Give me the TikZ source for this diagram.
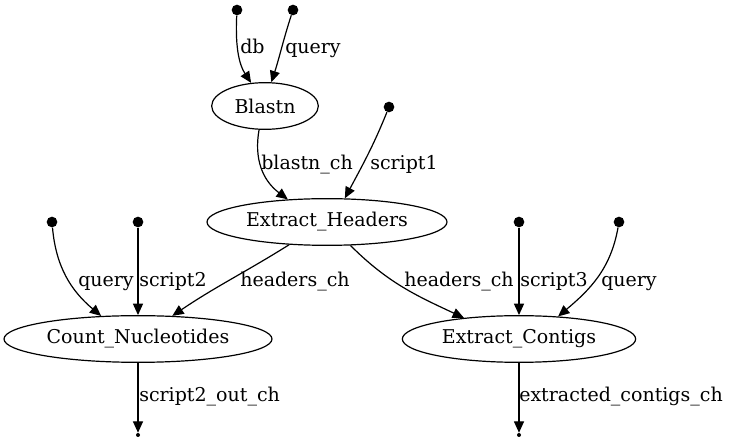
\documentclass[tikz,border=0pt]{standalone}
\usepackage{fontspec}
\setmainfont{DejaVu Serif}
\usetikzlibrary{arrows.meta,shapes.geometric}
\begin{document}
\begin{tikzpicture}[x=0.75pt,y=-0.75pt,
  every node/.style={font=\fontsize{14.25}{16}\selectfont},
  proc/.style={draw,ellipse,line width=0.9pt,inner sep=0pt,minimum height=35pt},
  dot/.style={circle,fill,inner sep=0pt,minimum size=8pt},
  sdot/.style={circle,fill,inner sep=0pt,minimum size=3pt},
  e/.style={-{Triangle[length=8.5pt,width=7.5pt]},line width=0.9pt},
  lab/.style={anchor=base west,inner sep=0pt}]
\useasboundingbox (0,0) rectangle (729,441);
% process nodes
\node[proc,minimum width=80pt] (blastn) at (265,106) {Blastn};
\node[proc,minimum width=180pt] (eh) at (327,222) {Extract\_Headers};
\node[proc,minimum width=201pt] (cn) at (138,339) {Count\_Nucleotides};
\node[proc,minimum width=175pt] (ec) at (519,339) {Extract\_Contigs};
% input / output points
\node[dot] (db) at (237,10) {};
\node[dot] (q1) at (293,10) {};
\node[dot] (s1) at (389,107) {};
\node[dot] (q2) at (52,222) {};
\node[dot] (s2) at (138,222) {};
\node[dot] (s3) at (519,222) {};
\node[dot] (q3) at (619,222) {};
\node[sdot] (o1) at (138,435) {};
\node[sdot] (o2) at (519,435) {};
% edges
\draw[e] (db) .. controls (235,50) and (240,66) .. (blastn.121);
\draw[e] (q1) to[out=-108,in=72] (blastn.75);
\draw[e] (blastn.-104) .. controls (254,158) and (262,180) .. (eh.150);
\draw[e] (s1) to[out=-112,in=62] (eh.53);
\draw[e] (q2) to[out=-85,in=140] (cn.148);
\draw[e] (s2) -- (cn);
\draw[e] (eh.211) to[out=-148,in=34] (cn.34);
\draw[e] (eh.-45) to[out=-45,in=155] (ec.159);
\draw[e] (s3) -- (ec);
\draw[e] (q3) to[out=-100,in=40] (ec.30);
\draw[e] (cn) -- (o1);
\draw[e] (ec) -- (o2);
% labels
\node[lab] at (240,54) {db};
\node[lab] at (285,54) {query};
\node[lab] at (261,170) {blastn\_ch};
\node[lab] at (370,170) {script1};
\node[lab] at (78,287) {query};
\node[lab] at (139,287) {script2};
\node[lab] at (240,287) {headers\_ch};
\node[lab] at (404,287) {headers\_ch};
\node[lab] at (520,287) {script3};
\node[lab] at (601,287) {query};
\node[lab] at (139,402) {script2\_out\_ch};
\node[lab] at (519,402) {extracted\_contigs\_ch};
\end{tikzpicture}
\end{document}
